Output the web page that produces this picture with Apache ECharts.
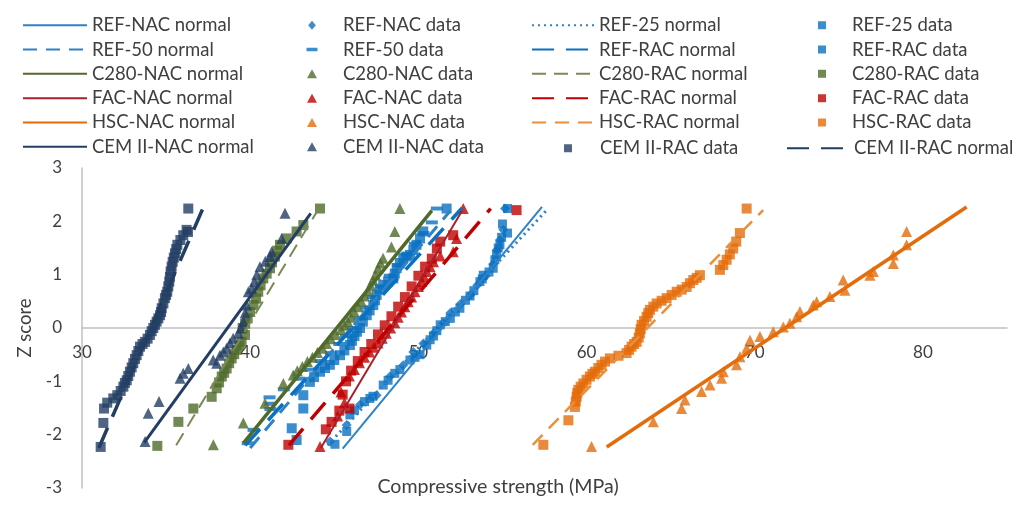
<!DOCTYPE html>
<html><head><meta charset="utf-8">
<script src="https://cdn.jsdelivr.net/npm/echarts@6/dist/echarts.min.js"></script>
<style>html,body{margin:0;padding:0;background:#fff}#c{width:1021px;height:508px}</style>
</head><body><div id="c"></div>
<script>
// ---- data: [compressive strength (MPa), Z score] ----
const refNacNormal = [[45.5,-2.26],[57.35,2.27]];
const refNacData = [[44.75,-2.13],[45.74,-1.82],[46.53,-1.44],[47.52,-1.26],[48.31,-0.91],[49.1,-0.7],[49.7,-0.45],[50.3,-0.29],[50.9,-0.1],[51.5,0.09],[51.9,0.28],[52.5,0.45],[53.1,0.62],[53.5,0.8],[54.0,0.97],[54.45,1.2],[54.65,1.46],[54.85,1.65],[55.05,1.84],[55.15,2.24]];
const ref25Normal = [[44.6,-2.2],[57.6,2.2]];
const ref25Data = [[45.04,-2.18],[45.74,-1.94],[45.93,-1.63],[46.2,-1.54],[46.8,-1.38],[47.12,-1.32],[47.3,-1.28],[47.91,-1.07],[48.2,-0.98],[48.6,-0.85],[48.9,-0.78],[49.5,-0.6],[49.8,-0.55],[50.1,-0.5],[50.5,-0.32],[50.7,-0.22],[50.9,-0.15],[51.1,-0.05],[51.3,0.06],[51.6,0.12],[51.9,0.18],[52.2,0.3],[52.47,0.37],[52.8,0.52],[53.07,0.6],[53.3,0.7],[53.66,0.87],[53.8,0.92],[53.86,0.99],[54.2,1.05],[54.45,1.12],[54.55,1.28],[54.65,1.37],[54.75,1.5],[54.85,1.56],[54.95,1.7],[55.3,1.78],[55.0,1.95],[55.3,2.24]];
const ref50Normal = [[40.0,-2.25],[51.9,2.2]];
const ref50Data = [[39.85,-2.16],[40.2,-1.91],[41.2,-1.52],[41.2,-1.42],[41.15,-1.3],[42.0,-1.15],[42.9,-0.95],[43.6,-0.78],[44.2,-0.62],[44.8,-0.47],[45.3,-0.3],[45.7,-0.15],[46.1,0.0],[46.5,0.18],[46.9,0.38],[47.3,0.58],[47.8,0.78],[48.3,0.98],[48.8,1.18],[49.3,1.38],[49.8,1.58],[50.3,1.78],[50.8,1.98],[51.1,2.24]];
const refRacNormal = [[39.7,-2.2],[52.6,2.25]];
const refRacData = [[42.76,-2.1],[42.47,-1.88],[43.16,-1.51],[43.16,-1.26],[43.55,-1.01],[43.8,-0.92],[44.15,-0.82],[44.45,-0.75],[44.74,-0.69],[45.0,-0.6],[45.34,-0.51],[45.6,-0.42],[45.93,-0.32],[46.05,-0.24],[46.2,-0.15],[46.35,-0.07],[46.53,0.0],[46.7,0.12],[46.93,0.24],[47.1,0.33],[47.32,0.43],[47.42,0.52],[47.52,0.62],[47.7,0.72],[47.91,0.81],[48.2,0.87],[48.51,0.93],[48.6,1.02],[48.71,1.12],[48.9,1.22],[49.1,1.31],[49.3,1.34],[49.5,1.37],[49.7,1.46],[49.89,1.56],[50.1,1.68],[50.29,1.81],[51.68,2.24]];
const c280NacNormal = [[39.6,-2.16],[50.8,2.2]];
const c280NacData = [[37.81,-2.19],[39.59,-1.78],[40.88,-1.41],[41.97,-1.04],[42.56,-0.88],[42.8,-0.8],[43.1,-0.72],[43.4,-0.63],[43.7,-0.55],[44.0,-0.46],[44.3,-0.38],[44.55,-0.29],[44.8,-0.2],[45.1,-0.12],[45.4,-0.03],[45.6,0.05],[45.8,0.12],[46.0,0.2],[46.2,0.3],[46.4,0.4],[46.6,0.5],[46.8,0.6],[47.0,0.7],[47.15,0.8],[47.3,0.9],[47.45,1.0],[47.6,1.12],[47.75,1.22],[47.9,1.31],[48.4,1.52],[48.6,1.81],[48.9,2.24]];
const c280RacNormal = [[35.6,-2.2],[44.0,2.2]];
const c280RacData = [[34.48,-2.21],[35.73,-1.76],[36.62,-1.51],[37.71,-1.29],[38.01,-1.13],[38.15,-1.02],[38.31,-0.91],[38.45,-0.84],[38.6,-0.76],[38.75,-0.66],[38.9,-0.57],[39.05,-0.49],[39.2,-0.41],[39.35,-0.33],[39.49,-0.26],[39.69,-0.13],[39.55,0.0],[39.7,0.08],[39.85,0.18],[40.0,0.3],[40.2,0.43],[40.35,0.55],[40.48,0.68],[40.62,0.8],[40.78,0.93],[40.98,1.02],[41.18,1.12],[41.3,1.23],[41.47,1.34],[41.6,1.45],[41.77,1.56],[42.17,1.68],[42.76,1.81],[43.16,1.93],[44.15,2.24]];
const facNacNormal = [[44.2,-2.25],[52.6,2.2]];
const facNacData = [[44.15,-2.22],[45.2,-1.65],[45.6,-1.4],[45.4,-1.2],[45.9,-0.9],[46.2,-0.78],[46.5,-0.65],[46.8,-0.55],[47.1,-0.45],[47.35,-0.36],[47.6,-0.28],[47.85,-0.19],[48.1,-0.1],[48.35,0.0],[48.6,0.1],[48.8,0.2],[49.0,0.3],[49.2,0.4],[49.4,0.49],[49.6,0.58],[49.8,0.68],[50.0,0.78],[50.2,0.87],[50.35,0.96],[50.5,1.06],[50.7,1.15],[50.9,1.24],[51.3,1.35],[52.07,1.43],[52.27,1.68],[52.67,2.24]];
const facRacNormal = [[42.3,-2.2],[54.3,2.24]];
const facRacData = [[42.27,-2.19],[44.5,-1.9],[44.84,-1.76],[45.3,-1.55],[45.9,-1.51],[45.5,-1.25],[45.7,-1.0],[46.0,-0.8],[46.4,-0.62],[46.8,-0.45],[47.2,-0.3],[47.6,-0.12],[48.0,0.05],[48.4,0.22],[48.8,0.4],[49.2,0.58],[49.6,0.78],[50.0,0.98],[50.4,1.15],[50.8,1.3],[51.1,1.49],[51.3,1.62],[52.07,1.74],[55.84,2.21]];
const hscNacNormal = [[61.2,-2.23],[82.6,2.27]];
const hscNacData = [[60.3,-2.22],[63.97,-1.76],[65.65,-1.51],[65.85,-1.35],[66.84,-1.19],[67.34,-1.07],[68.03,-0.94],[68.13,-0.82],[68.92,-0.69],[69.12,-0.54],[69.52,-0.38],[69.72,-0.23],[70.31,-0.16],[71.1,-0.07],[71.7,0.02],[72.09,0.09],[72.49,0.21],[72.69,0.31],[73.48,0.43],[73.68,0.49],[74.47,0.59],[75.36,0.71],[75.26,0.9],[76.85,0.99],[77.05,1.06],[78.24,1.21],[78.24,1.37],[79.03,1.56],[79.03,1.81]];
const hscRacNormal = [[56.8,-2.19],[70.5,2.21]];
const hscRacData = [[57.43,-2.19],[58.92,-1.73],[59.31,-1.48],[59.36,-1.38],[59.41,-1.29],[59.45,-1.22],[59.51,-1.16],[59.65,-1.1],[59.81,-1.04],[60.0,-0.97],[60.2,-0.91],[60.35,-0.86],[60.5,-0.82],[60.7,-0.75],[60.89,-0.69],[61.1,-0.63],[61.39,-0.57],[61.9,-0.52],[62.38,-0.47],[62.53,-0.41],[62.68,-0.35],[62.83,-0.3],[62.98,-0.26],[63.1,-0.18],[63.17,-0.1],[63.22,-0.02],[63.27,0.06],[63.42,0.13],[63.57,0.21],[63.67,0.28],[63.77,0.34],[63.97,0.4],[64.17,0.46],[64.46,0.51],[64.76,0.56],[65.06,0.62],[65.36,0.68],[65.66,0.72],[65.95,0.77],[66.15,0.84],[66.35,0.9],[66.55,0.94],[66.74,0.99],[67.93,1.09],[68.13,1.18],[68.33,1.28],[68.52,1.38],[68.72,1.49],[68.9,1.62],[69.12,1.78],[69.52,2.24]];
const cemNacNormal = [[33.7,-2.15],[43.6,2.15]];
const cemNacData = [[33.75,-2.13],[33.94,-1.6],[34.58,-1.38],[35.83,-0.94],[36.02,-0.85],[36.32,-0.76],[37.8,-0.6],[38.01,-0.66],[38.2,-0.51],[38.4,-0.45],[38.6,-0.38],[38.8,-0.28],[38.99,-0.19],[39.29,-0.1],[39.45,0.0],[39.59,0.12],[39.7,0.28],[39.79,0.43],[39.89,0.68],[40.09,0.74],[40.25,0.87],[40.39,1.0],[40.58,1.15],[40.9,1.25],[41.18,1.34],[41.28,1.43],[41.87,1.68],[42.07,2.15]];
const cemRacNormal = [[31.0,-2.25],[37.2,2.25]];
const cemRacData = [[31.11,-2.23],[31.27,-1.78],[31.31,-1.51],[31.5,-1.4],[31.86,-1.32],[32.1,-1.26],[32.3,-1.18],[32.46,-1.1],[32.55,-1.03],[32.66,-0.98],[32.75,-0.9],[32.85,-0.82],[32.95,-0.74],[33.05,-0.66],[33.15,-0.58],[33.25,-0.51],[33.35,-0.43],[33.45,-0.35],[33.6,-0.3],[33.75,-0.26],[33.9,-0.2],[34.04,-0.13],[34.14,-0.06],[34.24,0.0],[34.34,0.06],[34.44,0.12],[34.54,0.18],[34.64,0.24],[34.7,0.3],[34.74,0.37],[34.84,0.46],[34.93,0.56],[35.0,0.62],[35.07,0.68],[35.13,0.78],[35.19,0.87],[35.23,0.96],[35.27,1.06],[35.33,1.15],[35.39,1.24],[35.46,1.32],[35.53,1.4],[35.6,1.48],[35.67,1.56],[35.85,1.65],[36.02,1.74],[36.3,1.8],[36.22,1.84],[36.32,2.24]];

const xAxisTitle = 'Compressive strength (MPa)';
const yAxisTitle = 'Z score';

const FONT = 'Lato';
const TXT = '#404040';
const BLUE = '#0A70C0', BLUEL = '#2E82C8', GREEN = '#4F6A2A', GREENL = '#7A8A55',
      RED = '#C00000', REDD = '#A8202A', ORANGE = '#E46C0A', ORANGEL = '#E8903A', NAVY = '#233E64';

function lineS(name, data, color, width, type) {
  return {name, type:'line', data, symbol:'none', showSymbol:false, silent:true,
    lineStyle:{color, width, type}, itemStyle:{color}, z:3};
}
function dotS(name, data, color, symbol, size, shape) {
  return {name, type:'scatter', data, symbol, symbolSize:size, itemStyle:{color}, z:2, _shape:shape};
}

const series = [
  lineS('REF-NAC normal', refNacNormal, BLUEL, 2, 'solid'),
  dotS('REF-NAC data', refNacData, BLUE, 'diamond', 10, 'diamond'),
  lineS('REF-25 normal', ref25Normal, BLUEL, 3, [2,4]),
  dotS('REF-25 data', ref25Data, BLUE, 'rect', 9, 'square'),
  lineS('REF-50 normal', ref50Normal, BLUEL, 3, [14,9]),
  dotS('REF-50 data', ref50Data, BLUE, 'rect', [12,4], 'dash'),
  lineS('REF-RAC normal', refRacNormal, BLUE, 3.5, [22,12]),
  dotS('REF-RAC data', refRacData, BLUE, 'rect', 10, 'square'),
  lineS('C280-NAC normal', c280NacNormal, GREEN, 3.5, 'solid'),
  dotS('C280-NAC data', c280NacData, GREEN, 'triangle', 11, 'triangle'),
  lineS('C280-RAC normal', c280RacNormal, GREENL, 2, [14,8]),
  dotS('C280-RAC data', c280RacData, GREEN, 'rect', 10, 'square'),
  lineS('FAC-NAC normal', facNacNormal, REDD, 2, 'solid'),
  dotS('FAC-NAC data', facNacData, RED, 'triangle', 11, 'triangle'),
  lineS('FAC-RAC normal', facRacNormal, RED, 3.5, [22,12]),
  dotS('FAC-RAC data', facRacData, RED, 'rect', 10, 'square'),
  lineS('HSC-NAC normal', hscNacNormal, ORANGE, 3.5, 'solid'),
  dotS('HSC-NAC data', hscNacData, ORANGE, 'triangle', 11, 'triangle'),
  lineS('HSC-RAC normal', hscRacNormal, ORANGEL, 2.5, [14,9]),
  dotS('HSC-RAC data', hscRacData, ORANGE, 'rect', 10, 'square'),
  lineS('CEM II-NAC normal', cemNacNormal, NAVY, 3, 'solid'),
  dotS('CEM II-NAC data', cemNacData, NAVY, 'triangle', 11, 'triangle'),
  dotS('CEM II-RAC data', cemRacData, NAVY, 'rect', 10, 'square'),
  lineS('CEM II-RAC normal', cemRacNormal, NAVY, 3.5, [22,12])
];
const byName = {};
series.forEach(s => { byName[s.name] = s; });

// legend marker drawn centred in a box of the legend item's size (so no stretching)
function iconPath(shape, w, h) {
  const cx = w / 2, cy = h / 2;
  let p = 'path://M0,0L0.01,0M' + w + ',' + h + 'L' + (w - 0.01) + ',' + h;
  if (shape === 'diamond') p += `M${cx},${cy-4.5}L${cx+3.8},${cy}L${cx},${cy+4.5}L${cx-3.8},${cy}Z`;
  if (shape === 'square') p += `M${cx-4},${cy-4}L${cx+4},${cy-4}L${cx+4},${cy+4}L${cx-4},${cy+4}Z`;
  if (shape === 'triangle') p += `M${cx},${cy-4.5}L${cx+5},${cy+4.5}L${cx-5},${cy+4.5}Z`;
  if (shape === 'dash') p += `M${cx-5.5},${cy-1.7}L${cx+5.5},${cy-1.7}L${cx+5.5},${cy+1.7}L${cx-5.5},${cy+1.7}Z`;
  return p;
}

const ROW0 = 10.75, PITCH = 24.6, IH = 10;
function legendCol(left, top, itemWidth, names) {
  return {
    orient:'vertical', left, top, itemWidth, itemHeight:IH, itemGap:PITCH - 19.3,
    selectedMode:false,
    textStyle:{fontFamily:FONT, fontSize:18.5, color:TXT},
    data: names.map(n => {
      const s = byName[n];
      if (s.type === 'line') return {name:n, itemStyle:{color:'rgba(0,0,0,0)', borderWidth:0, opacity:0}};
      return {name:n, icon:iconPath(s._shape, itemWidth, IH)};
    })
  };
}

const chart = echarts.init(document.getElementById('c'), null, {renderer:'canvas'});
chart.setOption({
  animation:false,
  backgroundColor:'#ffffff',
  textStyle:{fontFamily:FONT},
  legend:[
    legendCol(17, ROW0, 64, ['REF-NAC normal','REF-50 normal','C280-NAC normal','FAC-NAC normal','HSC-NAC normal','CEM II-NAC normal']),
    legendCol(281, ROW0, 52, ['REF-NAC data','REF-50 data','C280-NAC data','FAC-NAC data','HSC-NAC data','CEM II-NAC data']),
    legendCol(526, ROW0, 62, ['REF-25 normal','REF-RAC normal','C280-RAC normal','FAC-RAC normal','HSC-RAC normal']),
    legendCol(536, ROW0 + 5 * PITCH, 54, ['CEM II-RAC data']),
    legendCol(792, ROW0, 50, ['REF-25 data','REF-RAC data','C280-RAC data','FAC-RAC data','HSC-RAC data']),
    legendCol(781, ROW0 + 5 * PITCH, 62, ['CEM II-RAC normal'])
  ],
  grid:{left:82, right:14, top:168, bottom:20, containLabel:false},
  xAxis:{
    type:'value', min:30, max:85, interval:10, offset:-160,
    axisLine:{show:true, onZero:false, lineStyle:{color:'#C0C0C0', width:1.5}},
    axisTick:{show:false}, splitLine:{show:false},
    axisLabel:{fontFamily:FONT, fontSize:17, color:TXT, margin:16, showMaxLabel:false,
      formatter: v => (v % 10 === 0 ? String(v) : '')}
  },
  yAxis:{
    type:'value', min:-3, max:3, interval:1,
    name:yAxisTitle, nameLocation:'middle', nameGap:45,
    nameTextStyle:{fontFamily:FONT, fontSize:18.5, color:TXT},
    axisLine:{show:true, onZero:false, lineStyle:{color:'#C0C0C0', width:1.5}},
    axisTick:{show:false}, splitLine:{show:false},
    axisLabel:{fontFamily:FONT, fontSize:17, color:TXT, margin:20}
  },
  graphic:[{type:'text', x:498, y:487, style:{text:xAxisTitle,
    font:'19.6px ' + FONT, fill:TXT, align:'center', verticalAlign:'middle'}}],
  series: series.map(s => { const c = Object.assign({}, s); delete c._shape; return c; })
});
</script></body></html>
